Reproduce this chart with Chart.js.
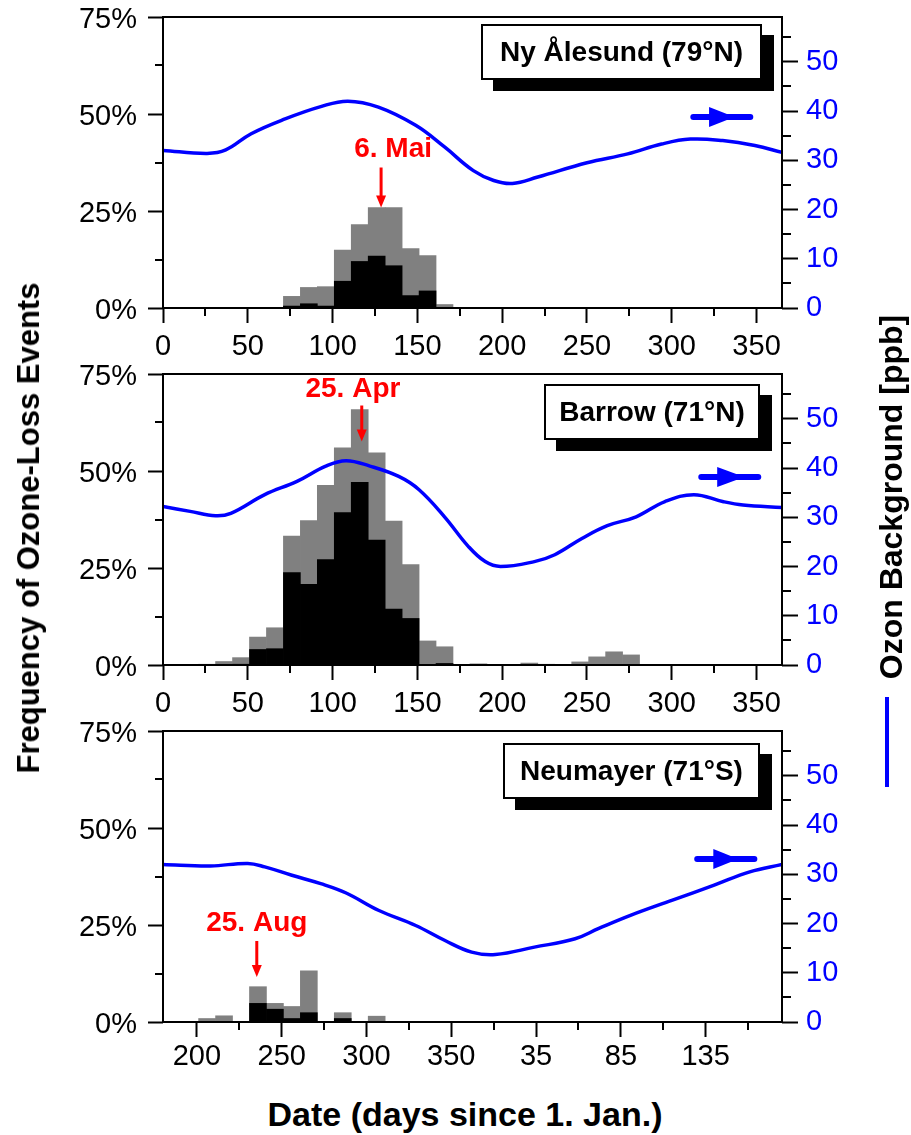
<!DOCTYPE html>
<html>
<head>
<meta charset="utf-8">
<title>Ozone-loss events</title>
<script src="https://cdn.jsdelivr.net/npm/chart.js@4.4.0/dist/chart.umd.min.js"></script>
<style>
    html, body { margin: 0; padding: 0; background: #fff; }
    #page {
        position: relative;
        width: 911px;
        height: 1135px;
        overflow: hidden;
        font-family: "Liberation Sans", Arial, Helvetica, sans-serif;
    }
    #page canvas { position: absolute; left: 0; }
    .station {
        position: absolute;
        box-sizing: border-box;
        background: #fff;
        border: 2px solid #000;
        box-shadow: 12px 11px 0 #000;
        font-weight: bold;
        font-size: 28px;
        display: flex;
        align-items: center;
        justify-content: center;
        white-space: nowrap;
    }
    .title {
        position: absolute;
        font-weight: bold;
        white-space: nowrap;
        color: #000;
        transform: translate(-50%, -50%);
    }
    .title.rot { transform: translate(-50%, -50%) rotate(-90deg); }
</style>
</head>
<body>
<div id="page">
    <canvas id="nyChart" width="911" height="390" style="top:-13px"></canvas>
    <canvas id="barrowChart" width="911" height="390" style="top:344px"></canvas>
    <canvas id="neumayerChart" width="911" height="390" style="top:701px"></canvas>

    <div class="station" style="left:481px;top:24px;width:281px;height:56px">Ny Ålesund (79°N)</div>
    <div class="station" style="left:544px;top:384px;width:216px;height:56px">Barrow (71°N)</div>
    <div class="station" style="left:503px;top:743px;width:257px;height:56px">Neumayer (71°S)</div>

    <div class="title rot" style="left:29px;top:528px;font-size:31px">Frequency of Ozone-Loss Events</div>
    <div class="title rot" style="left:891px;top:497px;font-size:32px">Ozon Background [ppb]</div>
    <div style="position:absolute;left:885px;top:697px;width:4px;height:90px;background:#0000ff"></div>
    <div class="title" style="left:465px;top:1114px;font-size:34px">Date (days since 1. Jan.)</div>
</div>

<script>
/* =========================================================
   DATA  (10-day bins, bin centre in days since 1 Jan)
========================================================= */
// Ny Ålesund
const nyDays = [76, 86, 96, 106, 116, 126, 136, 146, 156, 166];
const nyAll = [3.0, 5.3, 5.5, 14.9, 21.5, 25.9, 25.9, 15.3, 13.5, 0.9];
const nyStrong = [0.5, 1.1, 0.5, 6.9, 12.0, 13.4, 10.9, 3.2, 4.4, 0];
const nyOzoneDays = [0, 26, 37, 52, 72, 93, 109, 127, 149, 166, 183, 195, 206, 221, 250, 274, 294, 311, 330, 349, 365];
const nyOzone = [32.0, 31.4, 32.1, 35.4, 38.4, 40.9, 42.0, 40.8, 37.1, 32.7, 27.9, 25.9, 25.3, 26.6, 29.5, 31.3, 33.3, 34.3, 34.0, 33.0, 31.6];

// Barrow
const barrowDays = [26, 36, 46, 56, 66, 76, 86, 96, 106, 116, 126, 136, 146, 156, 166, 186, 216, 226, 246, 256, 266, 276];
const barrowAll = [0.2, 0.9, 1.9, 7.2, 9.6, 33.2, 37.2, 46.3, 56.0, 65.8, 54.7, 37.1, 25.9, 6.2, 4.7, 0.3, 0.5, 0.2, 0.8, 2.1, 3.4, 2.6];
const barrowStrong = [0, 0, 0.2, 4.0, 4.2, 23.8, 20.8, 27.2, 39.3, 47.1, 32.2, 14.4, 12.0, 0, 0.4, 0, 0, 0, 0, 0, 0, 0];
const barrowOzoneDays = [0, 16, 31, 40, 60, 79, 96, 108, 122, 139, 151, 166, 180, 190, 199, 219, 231, 247, 262, 279, 296, 313, 330, 342, 365];
const barrowOzone = [32.2, 31.2, 30.3, 30.8, 34.6, 37.3, 40.4, 41.5, 40.4, 38.3, 35.6, 30.1, 24.1, 21.0, 20.0, 21.0, 22.4, 25.7, 28.3, 30.1, 33.2, 34.6, 33.2, 32.5, 32.0];

// Neumayer (axis runs from July into the following year, >365 = next year)
const neuDays = [206, 216, 236, 246, 256, 266, 286, 306];
const neuAll = [0.9, 1.6, 9.1, 4.8, 4.0, 13.2, 2.4, 1.5];
const neuStrong = [0, 0, 4.8, 3.3, 0.9, 2.4, 0.9, 0];
const neuOzoneDays = [180, 208, 230, 240, 256, 273, 288, 307, 329, 346, 362, 376, 399, 423, 437, 456, 480, 505, 526, 545];
const neuOzone = [32.0, 31.7, 32.2, 31.5, 29.8, 28.1, 26.2, 22.7, 19.6, 16.6, 14.2, 13.7, 15.2, 16.9, 19.0, 21.7, 24.7, 27.8, 30.5, 32.0];

const pctTicks = [0, 25, 50, 75];
const ppbTicks = [0, 10, 20, 30, 40, 50];

/* =========================================================
   STYLE
========================================================= */
const blue = '#0000ff';
const red = '#ff0000';
const fontFamily = '"Liberation Sans", Arial, Helvetica, sans-serif';

/* =========================================================
   HELPER
========================================================= */
function points(xs, ys) {
    return xs.map((x, i) => ({ x: x, y: ys[i] }));
}

function line(ctx, x1, y1, x2, y2) {
    ctx.beginPath();
    ctx.moveTo(x1, y1);
    ctx.lineTo(x2, y2);
    ctx.stroke();
}

/* =========================================================
   PLUGIN: frame, minor ticks, red date marker, blue arrow
========================================================= */
const decorations = {
    id: 'decorations',
    afterDatasetsDraw(chart, args, opts) {
        const ctx = chart.ctx;
        const area = chart.chartArea;
        const xs = chart.scales.x;
        const ys = chart.scales.y;
        const y2 = chart.scales.y2;

        ctx.save();
        ctx.strokeStyle = '#000';
        ctx.lineWidth = 2;
        ctx.strokeRect(area.left, area.top, area.right - area.left, area.bottom - area.top);

        // minor ticks (halfway between labelled ones)
        for (let v = Math.ceil((xs.min - 25) / 50) * 50 + 25; v < xs.max; v += 50) {
            if (v <= xs.min) continue;
            const px = Math.round(xs.getPixelForValue(v));
            line(ctx, px, area.bottom, px, area.bottom + 8);
        }
        for (let v = 12.5; v < 75; v += 25) {
            const py = Math.round(ys.getPixelForValue(v));
            line(ctx, area.left - 8, py, area.left, py);
        }
        for (let v = 5; v < y2.max; v += 10) {
            const py = Math.round(y2.getPixelForValue(v));
            line(ctx, area.right, py, area.right + 9, py);
        }

        // red date marker
        const m = opts.marker;
        const mx = xs.getPixelForValue(m.day);
        const tip = ys.getPixelForValue(m.pct);
        ctx.strokeStyle = red;
        ctx.fillStyle = red;
        ctx.lineWidth = 3;
        line(ctx, mx, tip - m.length, mx, tip - 10);
        ctx.beginPath();
        ctx.moveTo(mx - 5, tip - 12);
        ctx.lineTo(mx + 5, tip - 12);
        ctx.lineTo(mx, tip);
        ctx.closePath();
        ctx.fill();
        ctx.font = 'bold 28px ' + fontFamily;
        ctx.textAlign = 'center';
        ctx.textBaseline = 'middle';
        ctx.fillText(m.text, xs.getPixelForValue(m.textDay), ys.getPixelForValue(m.textPct));

        // blue arrow pointing to the right axis
        const a = opts.arrow;
        const ay = y2.getPixelForValue(a.ppb);
        ctx.strokeStyle = blue;
        ctx.fillStyle = blue;
        ctx.lineWidth = 6;
        ctx.lineCap = 'round';
        line(ctx, xs.getPixelForValue(a.from), ay, xs.getPixelForValue(a.to), ay);
        ctx.beginPath();
        ctx.moveTo(xs.getPixelForValue(a.headFrom), ay - 10);
        ctx.lineTo(xs.getPixelForValue(a.headTo), ay);
        ctx.lineTo(xs.getPixelForValue(a.headFrom), ay + 10);
        ctx.closePath();
        ctx.fill();

        ctx.restore();
    }
};

/* =========================================================
   CHART INIT
========================================================= */
function makeChart(id, p) {
    const tickGrid = {
        drawOnChartArea: false,
        drawTicks: true,
        tickWidth: 2,
        tickColor: '#000'
    };

    return new Chart(document.getElementById(id), {
        type: 'bar',
        data: {
            datasets: [{
                type: 'line',
                data: points(p.ozoneDays, p.ozone),
                yAxisID: 'y2',
                borderColor: blue,
                borderWidth: 3.5,
                pointRadius: 0,
                fill: false,
                tension: 0.4,
                order: 0
            }, {
                data: points(p.days, p.strong),
                backgroundColor: '#000000',
                order: 1
            }, {
                data: points(p.days, p.all),
                backgroundColor: '#808080',
                order: 2
            }]
        },
        options: {
            responsive: false,
            animation: false,
            devicePixelRatio: 1,
            layout: { padding: { top: 30, left: 0, right: 0, bottom: 0 } },
            datasets: {
                bar: { categoryPercentage: 1, barPercentage: 1, borderWidth: 0 }
            },
            plugins: {
                legend: { display: false },
                tooltip: { enabled: false },
                decorations: { marker: p.marker, arrow: p.arrow }
            },
            scales: {
                x: {
                    type: 'linear',
                    min: p.xMin,
                    max: p.xMax,
                    stacked: true,
                    offset: false,
                    grid: Object.assign({ offset: false, tickLength: 15 }, tickGrid),
                    border: { display: false },
                    ticks: {
                        stepSize: 50,
                        includeBounds: false,
                        autoSkip: false,
                        maxRotation: 0,
                        padding: p.xPad,
                        color: '#000',
                        font: { family: fontFamily, size: 29 },
                        callback: v => (v > 365 ? v - 365 : v)
                    },
                    afterFit: s => { s.height = 69; }
                },
                y: {
                    position: 'left',
                    min: 0,
                    max: 75,
                    stacked: false,
                    grid: Object.assign({ tickLength: 15 }, tickGrid),
                    border: { display: false },
                    afterBuildTicks: s => { s.ticks = pctTicks.map(v => ({ value: v })); },
                    ticks: {
                        padding: 11,
                        labelOffset: 3,
                        color: '#000',
                        font: { family: fontFamily, size: 29 },
                        callback: v => v + '%'
                    },
                    afterFit: s => { s.width = 163; }
                },
                y2: {
                    position: 'right',
                    min: 0,
                    max: 59.1,
                    grid: Object.assign({ tickLength: 16 }, tickGrid),
                    border: { display: false },
                    afterBuildTicks: s => { s.ticks = ppbTicks.map(v => ({ value: v })); },
                    ticks: {
                        padding: 8,
                        color: blue,
                        font: { family: fontFamily, size: 29 }
                    },
                    afterFit: s => { s.width = 129; }
                }
            }
        },
        plugins: [decorations]
    });
}

makeChart('nyChart', {
    days: nyDays, all: nyAll, strong: nyStrong,
    ozoneDays: nyOzoneDays, ozone: nyOzone,
    xMin: 0, xMax: 365, xPad: 7,
    marker: { day: 128.6, pct: 25.9, length: 40, text: '6. Mai', textDay: 135.7, textPct: 41.0 },
    arrow: { from: 312.7, to: 346.3, headFrom: 322, headTo: 337, ppb: 38.8 }
});

makeChart('barrowChart', {
    days: barrowDays, all: barrowAll, strong: barrowStrong,
    ozoneDays: barrowOzoneDays, ozone: barrowOzone,
    xMin: 0, xMax: 365, xPad: 7,
    marker: { day: 117.2, pct: 57.6, length: 36, text: '25. Apr', textDay: 112, textPct: 71.0 },
    arrow: { from: 317.4, to: 351, headFrom: 326.8, headTo: 342.8, ppb: 38.2 }
});

makeChart('neumayerChart', {
    days: neuDays, all: neuAll, strong: neuStrong,
    ozoneDays: neuOzoneDays, ozone: neuOzone,
    xMin: 180, xMax: 545, xPad: 3,
    marker: { day: 235.3, pct: 11.6, length: 36, text: '25. Aug', textDay: 235.3, textPct: 25.5 },
    arrow: { from: 495, to: 528.7, headFrom: 504.5, headTo: 519.2, ppb: 33.1 }
});
</script>
</body>
</html>
